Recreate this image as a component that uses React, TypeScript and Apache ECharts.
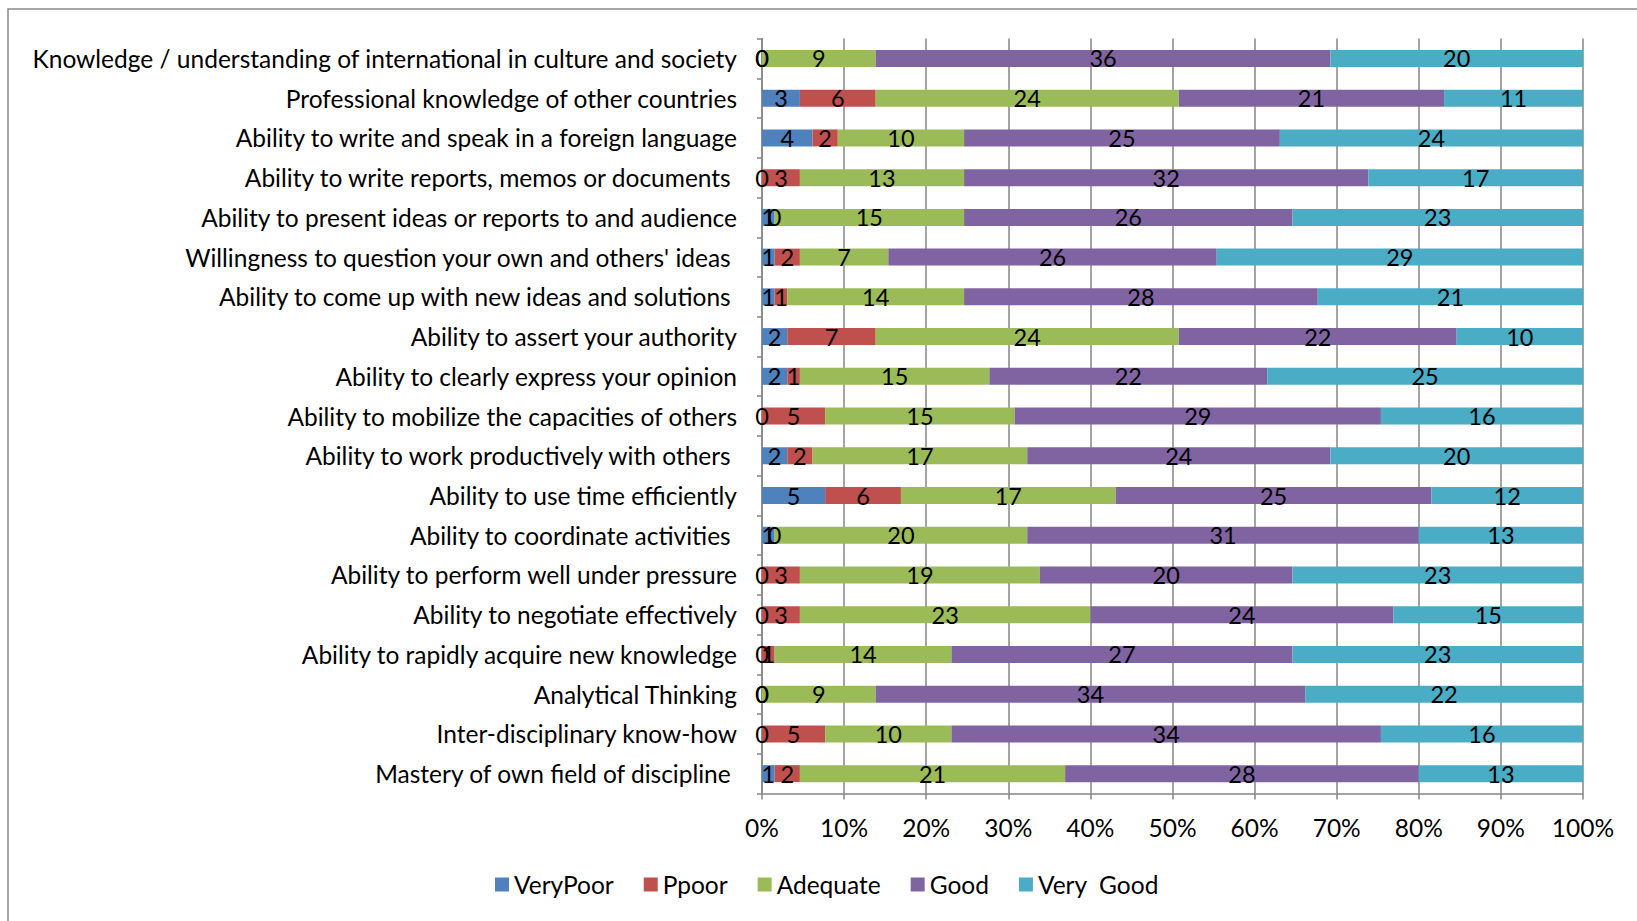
import React, { useEffect, useRef } from "react";
import * as echarts from "echarts";

const categories = [
  "Knowledge / understanding of international in culture and society",
  "Professional knowledge of other countries",
  "Ability to write and speak in a foreign language",
  "Ability to write reports, memos or documents ",
  "Ability to present ideas or reports to and audience",
  "Willingness to question your own and others' ideas ",
  "Ability to come up with new ideas and solutions ",
  "Ability to assert your authority",
  "Ability to clearly express your opinion",
  "Ability to mobilize the capacities of others",
  "Ability to work productively with others ",
  "Ability to use time efficiently",
  "Ability to coordinate activities ",
  "Ability to perform well under pressure",
  "Ability to negotiate effectively",
  "Ability to rapidly acquire new knowledge",
  "Analytical Thinking",
  "Inter-disciplinary know-how",
  "Mastery of own field of discipline ",
];

const seriesNames = ["VeryPoor", "Ppoor", "Adequate", "Good", "Very  Good"];
const veryPoor = [0, 3, 4, 0, 1, 1, 1, 2, 2, 0, 2, 5, 1, 0, 0, 0, 0, 0, 1];
const ppoor = [0, 6, 2, 3, 0, 2, 1, 7, 1, 5, 2, 6, 0, 3, 3, 1, 0, 5, 2];
const adequate = [9, 24, 10, 13, 15, 7, 14, 24, 15, 15, 17, 17, 20, 19, 23, 14, 9, 10, 21];
const good = [36, 21, 25, 32, 26, 26, 28, 22, 22, 29, 24, 25, 31, 20, 24, 27, 34, 34, 28];
const veryGood = [20, 11, 24, 17, 23, 29, 21, 10, 25, 16, 20, 12, 13, 23, 15, 23, 22, 16, 13];
const xTicks = [0, 10, 20, 30, 40, 50, 60, 70, 80, 90, 100];

const colors = ["#4F81BD", "#C0504D", "#9BBB59", "#8064A2", "#4BACC6"];
const FONT = "Lato";

export default function App() {
  const ref = useRef<HTMLDivElement>(null);
  useEffect(() => {
    if (!ref.current) return;
    const chart = echarts.init(ref.current, undefined, { renderer: "svg" });
    const raw = [veryPoor, ppoor, adequate, good, veryGood];
    const totals = categories.map((_, i) => raw.reduce((s, arr) => s + arr[i], 0));
    const series = raw.map((arr, si) => ({
      name: seriesNames[si],
      type: "bar",
      stack: "total",
      barWidth: 17,
      itemStyle: { color: colors[si] },
      label: {
        show: true,
        position: "inside",
        color: "#000",
        fontFamily: FONT,
        fontSize: 23.5,
        formatter: (p: any) => String(arr[p.dataIndex]),
      },
      data: arr.map((v, i) => (v / totals[i]) * 100),
    }));
    chart.setOption({
      animation: false,
      backgroundColor: "#fff",
      textStyle: { fontFamily: FONT },
      color: colors,
      graphic: [
        {
          type: "rect",
          shape: { x: 8, y: 9, width: 1700, height: 1000 },
          style: { fill: "none", stroke: "#8a8a8a", lineWidth: 1.5 },
          silent: true,
        },
      ],
      grid: { left: 762, right: 54, top: 38.6, bottom: 127.5, containLabel: false },
      legend: {
        left: 490,
        top: 867,
        itemWidth: 14,
        itemHeight: 14,
        itemGap: 30,
        icon: "rect",
        textStyle: { fontFamily: FONT, fontSize: 24.5, color: "#000" },
        data: seriesNames,
      },
      xAxis: {
        type: "value",
        min: 0,
        max: 100,
        interval: 10,
        axisLine: { show: true, lineStyle: { color: "#868686", width: 1.5 } },
        axisTick: { show: true, length: 6, lineStyle: { color: "#868686", width: 1.5 } },
        splitLine: { show: true, lineStyle: { color: "#868686", width: 1.5 } },
        axisLabel: {
          color: "#000",
          fontFamily: FONT,
          fontSize: 24.5,
          margin: 21,
          formatter: (v: number) => (xTicks.includes(v) ? v + "%" : ""),
        },
      },
      yAxis: {
        type: "category",
        inverse: true,
        data: categories,
        axisLine: { show: true, lineStyle: { color: "#868686", width: 1.5 } },
        axisTick: { show: true, length: 5, lineStyle: { color: "#868686", width: 1.5 } },
        axisLabel: { color: "#000", fontFamily: FONT, fontSize: 24.5, margin: 25 },
      },
      series,
    });
    return () => chart.dispose();
  }, []);
  return (
    <div
      ref={ref}
      style={{ position: "fixed", left: 0, top: 0, width: 1637, height: 921 }}
    />
  );
}
